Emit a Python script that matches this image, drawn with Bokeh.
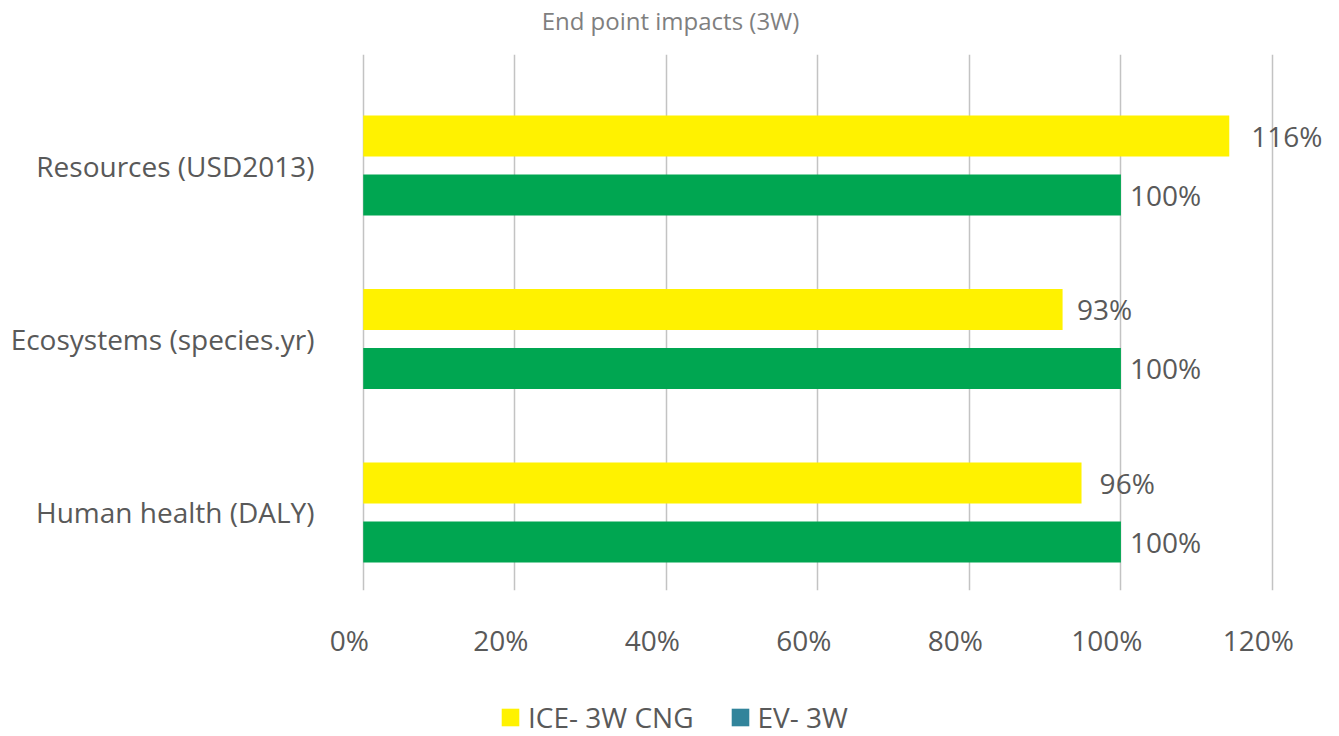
from bokeh.plotting import figure
from bokeh.layouts import column
from bokeh.models import (ColumnDataSource, Range1d, FixedTicker, NumeralTickFormatter,
                          Legend, LegendItem, LinearAxis, Label)
from bokeh.core.properties import value
from bokeh.embed import file_html
from bokeh.resources import INLINE

# ---- data ----
categories = ["Human health (DALY)", "Ecosystems (species.yr)", "Resources (USD2013)"]
series_names = ["ICE- 3W CNG", "EV- 3W"]
ice_values = [0.948, 0.923, 1.143]
ev_values = [1.0, 1.0, 1.0]
ice_labels = ["96%", "93%", "116%"]
ev_labels = ["100%", "100%", "100%"]
x_ticks = [0, 0.2, 0.4, 0.6, 0.8, 1.0, 1.2]
title_text = "End point impacts (3W)"

# ---- styling ----
FONT = "Open Sans"
TXT = "#595959"
YELLOW = "#FFF200"
GREEN = "#00A651"
TEAL = "#31849B"
GRID = "#C3C3C3"
BAR_H = 0.236
OFF = 0.17
FS = "28px"
W = 1331
X0, X1 = -0.03, 1.27
LAB_SHIFT = 0.0185   # tick labels sit slightly left of their gridlines

pos = list(range(len(categories)))
src_ice = ColumnDataSource(dict(y=[p_ + OFF for p_ in pos], x=ice_values,
                                lx=[float(s.strip('%')) / 100 for s in ice_labels], t=ice_labels))
src_ev = ColumnDataSource(dict(y=[p_ - OFF for p_ in pos], x=ev_values,
                               lx=[float(s.strip('%')) / 100 for s in ev_labels], t=ev_labels))

# ---- title strip ----
ts = figure(width=W, height=54, output_backend="svg", toolbar_location=None,
            x_range=Range1d(0, 1), y_range=Range1d(0, 1), min_border=0)
ts.axis.visible = False
ts.grid.visible = False
ts.outline_line_color = None
ts.add_layout(Label(x=330, y=34, x_units="screen", y_units="screen", text=title_text,
                    text_align="center", text_baseline="middle", text_font=FONT,
                    text_font_size="24px", text_color="#7F7F7F"))

# ---- main plot ----
p = figure(width=W, height=632, output_backend="svg", toolbar_location=None,
           x_range=Range1d(X0, X1), y_range=Range1d(-0.45, 2.64),
           min_border_left=340, min_border_right=6, min_border_top=0, min_border_bottom=96)
p.outline_line_color = None
p.background_fill_color = "white"
p.border_fill_color = "white"
p.extra_x_ranges = {"lab": Range1d(X0 + LAB_SHIFT, X1 + LAB_SHIFT)}

p.hbar(y="y", right="x", left=0, height=BAR_H, source=src_ice,
       fill_color=YELLOW, line_color=None)
p.hbar(y="y", right="x", left=0, height=BAR_H, source=src_ev,
       fill_color=GREEN, line_color=None)

for s in (src_ice, src_ev):
    p.text(x="lx", y="y", text="t", source=s, x_offset=9, text_baseline="middle",
           text_align="left", text_font=value(FONT), text_font_size=FS, text_color=TXT)

# axes
p.xaxis[0].visible = False
xax = LinearAxis(x_range_name="lab", ticker=FixedTicker(ticks=x_ticks),
                 formatter=NumeralTickFormatter(format="0%"))
xax.axis_line_color = None
xax.major_tick_line_color = None
xax.minor_tick_line_color = None
xax.major_label_standoff = 24
xax.major_label_text_font = FONT
xax.major_label_text_font_size = FS
xax.major_label_text_color = TXT
p.add_layout(xax, "below")

p.yaxis.ticker = FixedTicker(ticks=pos)
p.yaxis.major_label_overrides = {i: c for i, c in zip(pos, categories)}
p.yaxis.axis_line_color = None
p.yaxis.major_tick_line_color = None
p.yaxis.minor_tick_line_color = None
p.yaxis.major_label_standoff = 20
p.yaxis.major_label_text_font = FONT
p.yaxis.major_label_text_font_size = FS
p.yaxis.major_label_text_color = TXT

p.xgrid.ticker = FixedTicker(ticks=x_ticks)
p.xgrid.grid_line_color = GRID
p.xgrid.grid_line_width = 1.5
p.ygrid.grid_line_color = None

# ---- legend strip ----
lg = figure(width=W, height=50, output_backend="svg", toolbar_location=None,
            x_range=Range1d(0, 1), y_range=Range1d(0, 1), min_border=0)
lg.axis.visible = False
lg.grid.visible = False
lg.outline_line_color = None
r_ice = lg.hbar(y=[-5], right=[1], left=0, height=0.5, fill_color=YELLOW, line_color=None)
r_ev = lg.hbar(y=[-5], right=[1], left=0, height=0.5, fill_color=TEAL, line_color=None)
legend = Legend(items=[LegendItem(label=series_names[0], renderers=[r_ice]),
                       LegendItem(label=series_names[1], renderers=[r_ev])],
                orientation="horizontal", location=(159, 0), padding=0, margin=0,
                spacing=35, glyph_width=22, glyph_height=22, label_standoff=7,
                label_text_font=FONT, label_text_font_size=FS, label_text_color=TXT,
                border_line_color=None, background_fill_alpha=0)
lg.add_layout(legend)

open("out.html", "w").write(file_html(column(ts, p, lg, spacing=0), INLINE))
